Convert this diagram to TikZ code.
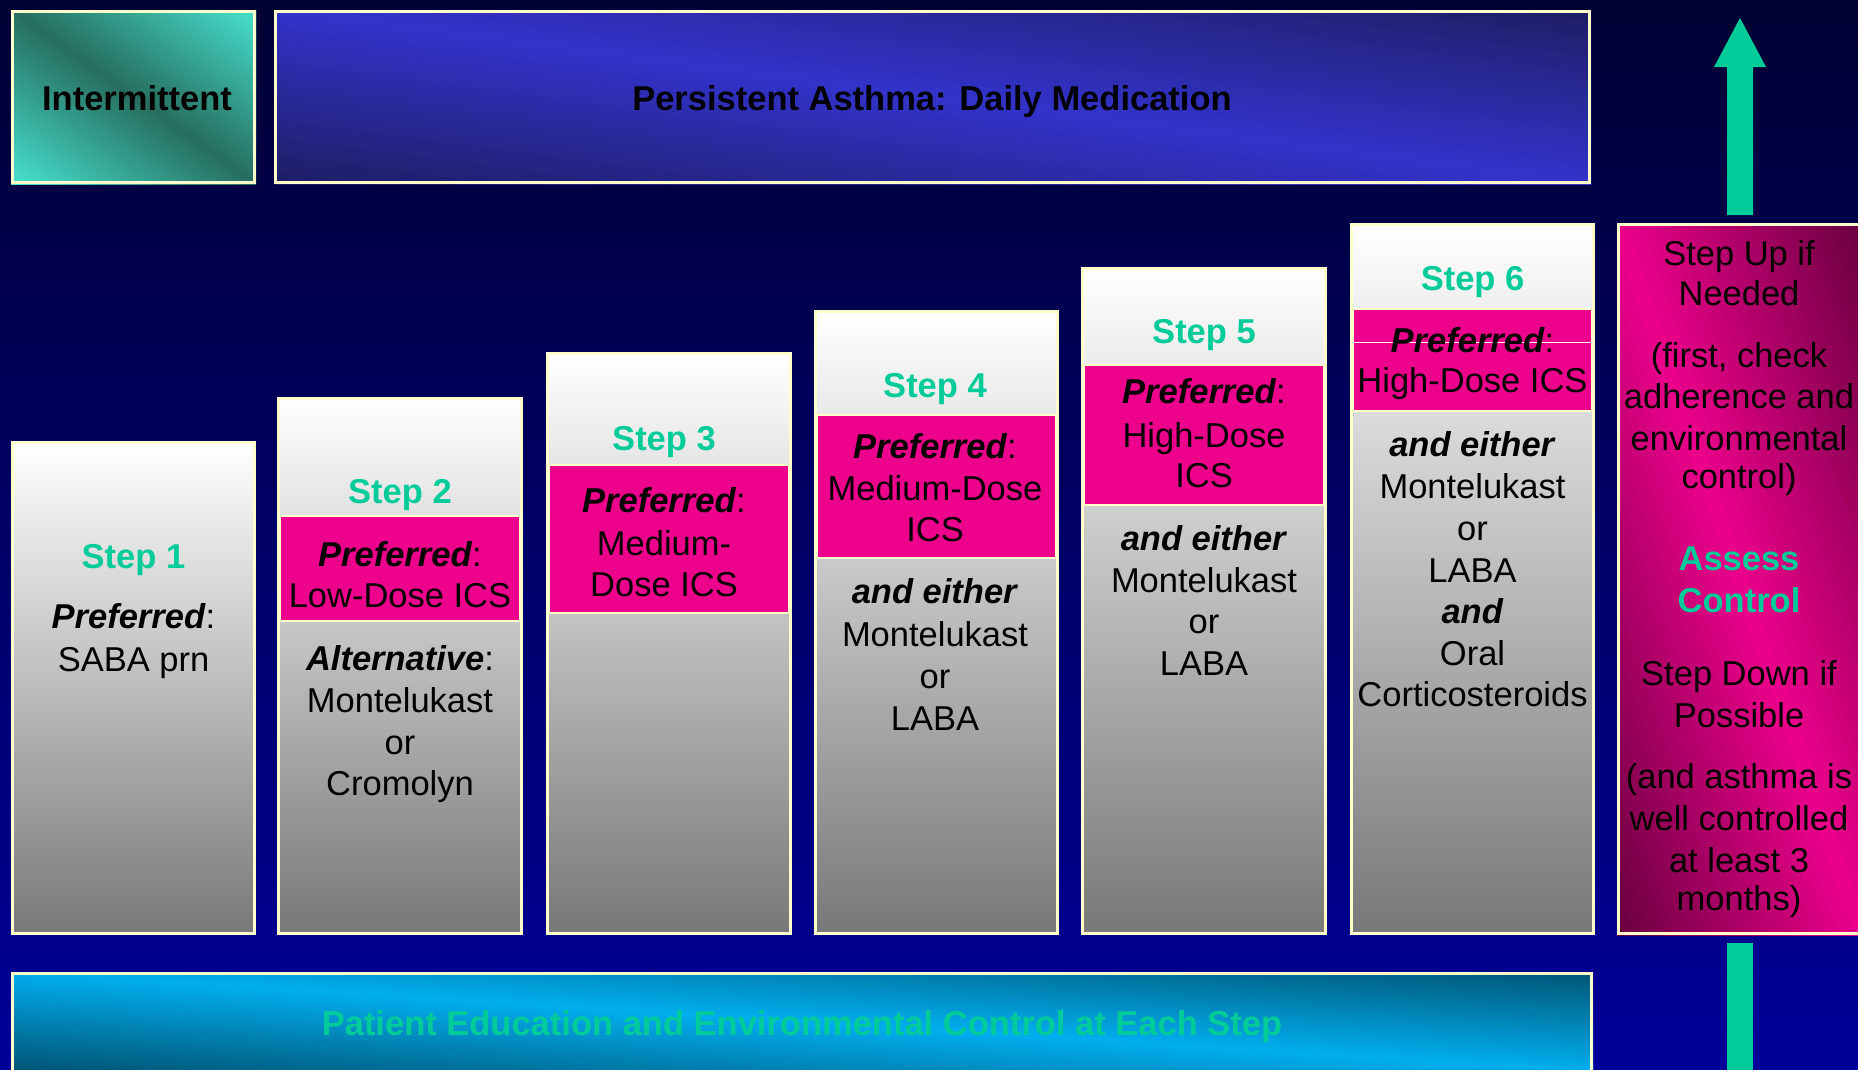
\documentclass[tikz,border=0pt]{standalone}
\usepackage{fontspec}
\setmainfont{Liberation Sans}
\definecolor{bgtop}{RGB}{0,0,51}
\definecolor{bgbot}{RGB}{0,0,153}
\definecolor{turq}{RGB}{72,226,208}
\definecolor{tealdark}{RGB}{38,110,95}
\definecolor{persbright}{RGB}{51,51,204}
\definecolor{persdark}{RGB}{30,30,100}
\definecolor{cyanbar}{RGB}{0,174,239}
\definecolor{cyandark}{RGB}{0,85,115}
\definecolor{pinkc}{RGB}{236,0,140}
\definecolor{maroon}{RGB}{105,0,62}
\definecolor{stepgreen}{RGB}{0,204,153}
\definecolor{bordery}{RGB}{255,255,204}
\definecolor{gmid}{RGB}{205,205,205}
\definecolor{gbot}{RGB}{120,120,120}
\newcommand\pf{\textbf{\textit{Preferred}}:}
\newcommand\bi[1]{\textbf{\textit{#1}}}
% diagonal gradient: x, y, w, h, corner colour, middle colour
\newcommand\diagfill[6]{%
  \begin{scope}
  \clip (#1,#2) rectangle ++(#3,#4);
  \foreach \k in {0,...,59}{%
    \pgfmathsetmacro\sa{-1+\k/30}%
    \pgfmathsetmacro\sb{-1+(\k+1)/30}%
    \pgfmathsetmacro\sm{abs((\sa+\sb)/2)}%
    \pgfmathsetmacro\pc{100*(1-\sm)}%
    \pgfmathsetmacro\ya{#2+(\sa)*#4}%
    \pgfmathsetmacro\yb{#2+(\sb)*#4}%
    \pgfmathsetmacro\yc{#2+#4+(\sa)*#4}%
    \pgfmathsetmacro\yd{#2+#4+(\sb)*#4}%
    \pgfmathsetmacro\xr{#1+#3}%
    \colorlet{stripc}{#6!\pc!#5}%
    \fill[stripc, draw=stripc, line width=0.8pt] (#1,\ya) -- (\xr,\yc) -- (\xr,\yd) -- (#1,\yb) -- cycle;
  }
  \end{scope}}
\begin{document}
\begin{tikzpicture}[x=1pt,y=-1pt,
  box/.style={draw=bordery, line width=3pt, inner sep=0pt, anchor=north west},
  stepbox/.style={box, top color=white, middle color=gmid, bottom color=gbot},
  pinkbox/.style={draw=bordery, line width=1.5pt, fill=pinkc, inner sep=0pt, anchor=north west},
  txt/.style={anchor=base, inner sep=0pt, font=\fontsize{34.5}{41.5}\selectfont},
  stp/.style={txt, text=stepgreen, font=\bfseries\fontsize{34.5}{41.5}\selectfont},
  hdr/.style={txt, font=\bfseries\fontsize{34.5}{41.5}\selectfont}
]
\clip (0,0) rectangle (1858,1069);
\useasboundingbox (0,0) rectangle (1858,1069);
\fill[top color=bgtop, bottom color=bgbot] (0,0) rectangle (1858,1069);

% header boxes
\diagfill{11}{10}{245}{174}{turq}{tealdark}
\node[box, minimum width=242pt, minimum height=171pt] (inter) at (11,10) {};
\node[hdr] (intert) at (137,110) {Intermittent};
\diagfill{274}{10}{1317}{174}{persdark}{persbright}
\node[box, minimum width=1314pt, minimum height=171pt] (pers) at (274,10) {};
\node[hdr] (perst) at (932,110) {Persistent Asthma: Daily Medication};

% step boxes
\node[stepbox, minimum width=242pt, minimum height=491pt] (b1) at (11,441) {};
\node[stepbox, minimum width=243pt, minimum height=535pt] (b2) at (277,397) {};
\node[stepbox, minimum width=243pt, minimum height=580pt] (b3) at (546,352) {};
\node[stepbox, minimum width=242pt, minimum height=622pt] (b4) at (814,310) {};
\node[stepbox, minimum width=243pt, minimum height=665pt] (b5) at (1081,267) {};
\node[stepbox, minimum width=242pt, minimum height=709pt] (b6) at (1350,223) {};

% pink preferred areas
\node[pinkbox, minimum width=240pt, minimum height=105pt] (p2) at (279,515) {};
\node[pinkbox, minimum width=240pt, minimum height=148pt] (p3) at (548,464) {};
\node[pinkbox, minimum width=239pt, minimum height=143pt] (p4) at (816,414) {};
\node[pinkbox, minimum width=240pt, minimum height=140pt] (p5) at (1083,364) {};
\node[pinkbox, minimum width=239pt, minimum height=102pt] (p6) at (1352,308) {};
\draw[white, line width=1pt] (p6.west |- 0,342) -- (p6.east |- 0,342);

% right box
\diagfill{1617}{223}{245}{712}{maroon}{pinkc}
\node[box, minimum width=260pt, minimum height=709pt] (rb) at (1617,223) {};

% bottom bar
\diagfill{11}{972}{1582}{100}{cyandark}{cyanbar}
\node[box, minimum width=1579pt, minimum height=120pt] (bar) at (11,972) {};
\node[hdr, text=stepgreen] (bart) at (802,1035) {Patient Education and Environmental Control at Each Step};

% arrows
\fill[stepgreen] (1727,215) -- (1727,67) -- (1714,67) -- (1740,18) -- (1766,67) -- (1753,67) -- (1753,215) -- cycle;
\fill[stepgreen] (1727,943) rectangle (1753,1080);

% Step 1
\node[stp] (t1a) at (133.5,568) {Step 1};
\node[txt] (t1b) at (133.5,628) {\pf};
\node[txt] (t1c) at (133.5,671) {SABA prn};

% Step 2
\node[stp] (t2a) at (400,503) {Step 2};
\node[txt] (t2b) at (400,566) {\pf};
\node[txt] (t2c) at (400,607) {Low-Dose ICS};
\node[txt] (t2d) at (400,670) {\bi{Alternative}:};
\node[txt] (t2e) at (400,712) {Montelukast};
\node[txt] (t2f) at (400,754) {or};
\node[txt] (t2g) at (400,795) {Cromolyn};

% Step 3
\node[stp] (t3a) at (664,450) {Step 3};
\node[txt] (t3b) at (664,512) {\pf};
\node[txt] (t3c) at (664,555) {Medium-};
\node[txt] (t3d) at (664,596) {Dose ICS};

% Step 4
\node[stp] (t4a) at (935,397) {Step 4};
\node[txt] (t4b) at (935,458) {\pf};
\node[txt] (t4c) at (935,500) {Medium-Dose};
\node[txt] (t4d) at (935,541) {ICS};
\node[txt] (t4e) at (935,603) {\bi{and either}};
\node[txt] (t4f) at (935,646) {Montelukast};
\node[txt] (t4g) at (935,688) {or};
\node[txt] (t4h) at (935,730) {LABA};

% Step 5
\node[stp] (t5a) at (1204,343) {Step 5};
\node[txt] (t5b) at (1204,403) {\pf};
\node[txt] (t5c) at (1204,447) {High-Dose};
\node[txt] (t5d) at (1204,487) {ICS};
\node[txt] (t5e) at (1204,550) {\bi{and either}};
\node[txt] (t5f) at (1204,592) {Montelukast};
\node[txt] (t5g) at (1204,633) {or};
\node[txt] (t5h) at (1204,675) {LABA};

% Step 6
\node[stp] (t6a) at (1472.5,290) {Step 6};
\node[txt] (t6b) at (1472.5,352) {\pf};
\node[txt] (t6c) at (1472.5,392) {High-Dose ICS};
\node[txt] (t6d) at (1472.5,456) {\bi{and either}};
\node[txt] (t6e) at (1472.5,498) {Montelukast};
\node[txt] (t6f) at (1472.5,540) {or};
\node[txt] (t6g) at (1472.5,582) {LABA};
\node[txt] (t6h) at (1472.5,623) {\bi{and}};
\node[txt] (t6i) at (1472.5,665) {Oral};
\node[txt] (t6j) at (1472.5,706) {Corticosteroids};

% right box text
\node[txt] (r1) at (1739,265) {Step Up if};
\node[txt] (r2) at (1739,305) {Needed};
\node[txt] (r3) at (1739,367) {(first, check};
\node[txt] (r4) at (1739,408) {adherence and};
\node[txt] (r5) at (1739,450) {environmental};
\node[txt] (r6) at (1739,488) {control)};
\node[stp] (r7) at (1739,570) {Assess};
\node[stp] (r8) at (1739,612) {Control};
\node[txt] (r9) at (1739,685) {Step Down if};
\node[txt] (r10) at (1739,727) {Possible};
\node[txt] (r11) at (1739,788) {(and asthma is};
\node[txt] (r12) at (1739,830) {well controlled};
\node[txt] (r13) at (1739,872) {at least 3};
\node[txt] (r14) at (1739,910) {months)};
\end{tikzpicture}
\end{document}
